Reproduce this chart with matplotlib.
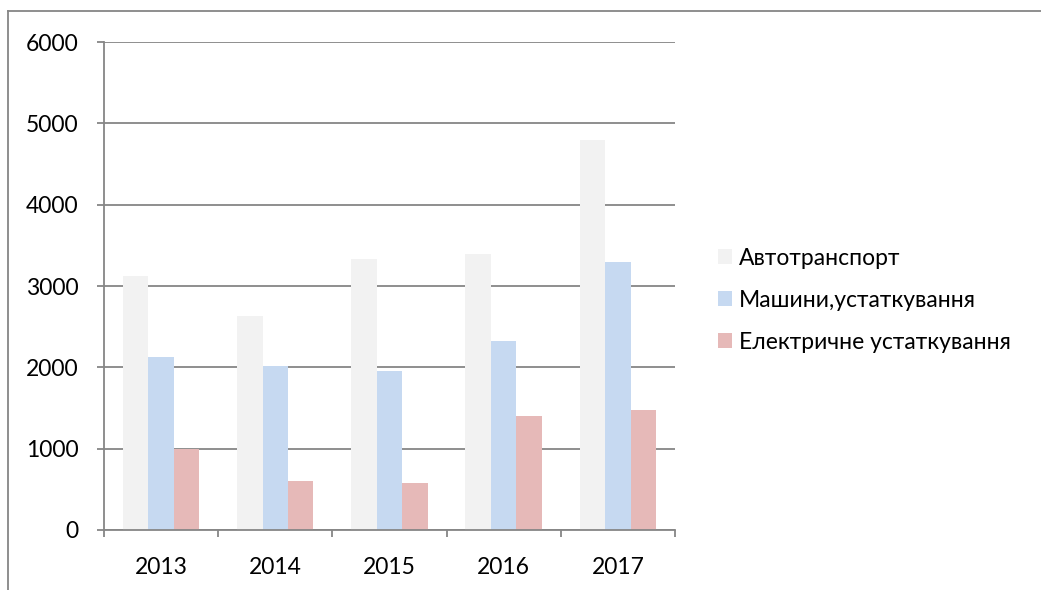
import numpy as np
import matplotlib
matplotlib.use("Agg")
import matplotlib.pyplot as plt
from matplotlib.lines import Line2D
from matplotlib.patches import Patch

# === Data ===
years = ["2013", "2014", "2015", "2016", "2017"]
series_names = ["Автотранспорт", "Машини,устаткування", "Електричне устаткування"]
auto = [3120, 2630, 3330, 3390, 4790]
machines = [2130, 2020, 1950, 2320, 3290]
electric = [1000, 600, 580, 1400, 1480]
y_ticks = [0, 1000, 2000, 3000, 4000, 5000, 6000]

colors = ["#F2F2F2", "#C6D9F1", "#E6B9B8"]
grid_col = "#868686"

plt.rcParams["font.family"] = ["Lato", "DejaVu Sans"]

fig = plt.figure(figsize=(10.41, 5.90), dpi=100)
ax = fig.add_axes([0.0999, 0.1017, 0.6484 - 0.0999, 0.9288 - 0.1017])

x = np.arange(len(years))
w = 0.223
for i, vals in enumerate([auto, machines, electric]):
    ax.bar(x + (i - 1) * w, vals, width=w, color=colors[i], zorder=3,
           label=series_names[i], linewidth=0)

ax.set_xlim(-0.5, len(years) - 0.5)
ax.set_ylim(0, 6000)
ax.set_yticks(y_ticks)
ax.set_yticklabels([str(v) for v in y_ticks], fontsize=16.5)
ax.yaxis.grid(True, color=grid_col, linewidth=1.3, zorder=0)
ax.tick_params(axis="y", length=5, width=1.3, color=grid_col, pad=13.5)

ax.set_xticks(x)
ax.set_xticklabels(years, fontsize=16.5)
ax.tick_params(axis="x", which="major", length=0, pad=19.5)
ax.set_xticks(np.arange(len(years) + 1) - 0.5, minor=True)
ax.tick_params(axis="x", which="minor", length=5, width=1.3, color=grid_col)

for side in ["top", "right"]:
    ax.spines[side].set_visible(False)
for side in ["left", "bottom"]:
    ax.spines[side].set_color(grid_col)
    ax.spines[side].set_linewidth(1.3)
    ax.spines[side].set_zorder(4)

# legend to the right of the plot
handles = [Patch(facecolor=c, edgecolor="none") for c in colors]
fig.legend(handles, series_names, loc="center left",
           bbox_to_anchor=(0.6695, 0.491), frameon=False, fontsize=16.5,
           handlelength=0.62, handleheight=0.62, handletextpad=0.3,
           labelspacing=0.92)

# chart area border (only top and left edges visible)
fig.add_artist(Line2D([8 / 1041, 1.0], [1 - 10.5 / 590] * 2, color=grid_col,
                      linewidth=1.3, transform=fig.transFigure))
fig.add_artist(Line2D([8 / 1041] * 2, [0.0, 1 - 10.5 / 590], color=grid_col,
                      linewidth=1.3, transform=fig.transFigure))

fig.savefig("out.png", dpi=100, facecolor="white")
